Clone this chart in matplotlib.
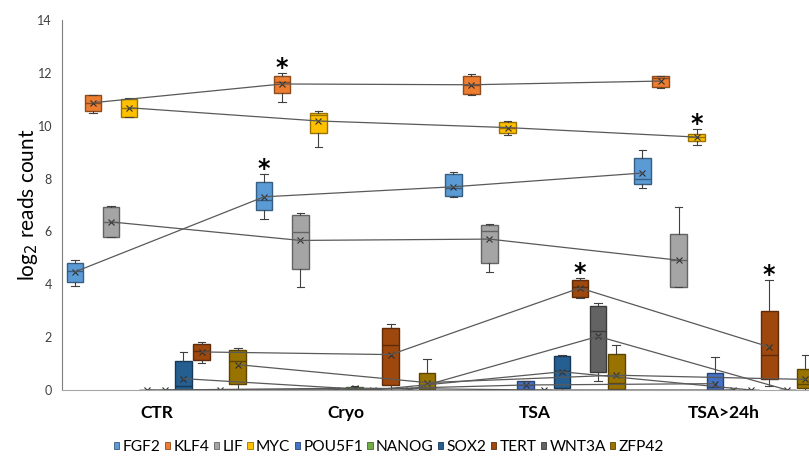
import matplotlib
matplotlib.use("Agg")
import matplotlib.pyplot as plt
import matplotlib.colors as mcolors
from matplotlib import font_manager
from matplotlib.patches import Patch

plt.rcParams["font.family"] = ["Lato", "DejaVu Sans"]

# Categories and genes
categories = ["CTR", "Cryo", "TSA", "TSA>24h"]
genes = ["FGF2", "KLF4", "LIF", "MYC", "POU5F1", "NANOG", "SOX2", "TERT", "WNT3A", "ZFP42"]
colors = ["#5B9BD5", "#ED7D31", "#A5A5A5", "#FFC000", "#4472C4",
          "#70AD47", "#255E91", "#9E480E", "#636363", "#997300"]

# Box stats per gene, one row per category: low whisker, Q1, median, Q3, high whisker, mean
FGF2 = [[3.93, 4.09, 4.51, 4.82, 4.91, 4.47],
        [6.46, 6.80, 7.19, 7.88, 8.18, 7.31],
        [7.30, 7.33, 7.66, 8.16, 8.25, 7.69],
        [7.63, 7.78, 7.97, 8.77, 9.09, 8.21]]
KLF4 = [[10.50, 10.56, 10.87, 11.16, 11.16, 10.87],
        [10.89, 11.22, 11.64, 11.88, 11.98, 11.58],
        [11.16, 11.21, 11.55, 11.89, 11.97, 11.55],
        [11.42, 11.45, 11.80, 11.87, 11.90, 11.69]]
LIF = [[5.78, 5.80, 6.36, 6.92, 6.95, 6.36],
       [3.91, 4.59, 5.97, 6.61, 6.68, 5.66],
       [4.45, 4.82, 6.03, 6.26, 6.29, 5.71],
       [3.90, 3.90, 4.91, 5.89, 6.91, 4.91]]
MYC = [[10.34, 10.34, 10.68, 11.02, 11.05, 10.68],
       [9.18, 9.71, 10.40, 10.48, 10.56, 10.18],
       [9.65, 9.71, 9.93, 10.13, 10.17, 9.93],
       [9.27, 9.42, 9.57, 9.70, 9.86, 9.57]]
POU5F1 = [[0, 0, 0, 0, 0, 0],
          [0, 0, 0, 0, 0, 0],
          [0.0, 0.03, 0.20, 0.33, 0.33, 0.19],
          [0.0, 0.0, 0.10, 0.63, 1.24, 0.24]]
NANOG = [[0, 0, 0, 0, 0, 0],
         [0.0, 0.0, 0.05, 0.10, 0.14, 0.07],
         [0, 0, 0, 0, 0, 0],
         [0, 0, 0, 0, 0, 0]]
SOX2 = [[0.0, 0.0, 0.15, 1.10, 1.43, 0.43],
        [0, 0, 0, 0, 0, 0],
        [0.0, 0.09, 0.73, 1.27, 1.31, 0.69],
        [0, 0, 0, 0, 0, 0]]
TERT = [[1.03, 1.12, 1.46, 1.73, 1.83, 1.44],
        [0.0, 0.18, 1.69, 2.33, 2.51, 1.34],
        [3.47, 3.53, 3.91, 4.15, 4.24, 3.86],
        [0.14, 0.43, 1.31, 2.98, 4.15, 1.63]]
WNT3A = [[0, 0, 0, 0, 0, 0],
         [0, 0, 0, 0, 0, 0],
         [0.34, 0.67, 2.24, 3.17, 3.28, 2.03],
         [0, 0, 0, 0, 0, 0]]
ZFP42 = [[0.0, 0.24, 1.09, 1.50, 1.60, 0.96],
         [0.0, 0.02, 0.05, 0.63, 1.16, 0.28],
         [0.0, 0.02, 0.25, 1.35, 1.69, 0.56],
         [0.0, 0.06, 0.24, 0.78, 1.31, 0.40]]
stats_by_gene = [FGF2, KLF4, LIF, MYC, POU5F1, NANOG, SOX2, TERT, WNT3A, ZFP42]

# Significance marks: (gene index, category index)
star_gene = [1, 0, 7, 3, 7]
star_cat = [1, 1, 2, 3, 3]

fig = plt.figure(figsize=(8.09, 4.57), dpi=100)
ax = fig.add_axes([0.0763, 0.1466, 0.9355, 0.8096])

slot = 0.0957
box_w = 0.088

for g, (name, col, st) in enumerate(zip(genes, colors, stats_by_gene)):
    pos = [c + (g - 4.5) * slot for c in range(len(categories))]
    edge = tuple(v * 0.6 for v in mcolors.to_rgb(col))
    bxs = []
    for row in st:
        bxs.append({"whislo": row[0], "q1": row[1], "med": row[2],
                    "q3": row[3], "whishi": row[4], "mean": row[5], "fliers": []})
    ax.bxp(bxs, positions=pos, widths=box_w, patch_artist=True, showmeans=True,
           capwidths=box_w * 0.45, manage_ticks=False,
           boxprops=dict(facecolor=col, edgecolor=edge, linewidth=1.0),
           medianprops=dict(color=edge, linewidth=1.0),
           whiskerprops=dict(color="#404040", linewidth=0.8),
           capprops=dict(color="#404040", linewidth=0.8),
           meanprops=dict(marker="x", markeredgecolor="#303030", markersize=5,
                          markeredgewidth=0.8))
    means = [row[5] for row in st]
    ax.plot(pos, means, color="#595959", linewidth=0.9, zorder=4)

for g, c in zip(star_gene, star_cat):
    x = c + (g - 4.5) * slot
    y = stats_by_gene[g][c][4]
    ax.text(x, y + 0.2, "*", ha="center", va="center", fontsize=17,
            fontweight="bold", color="black", family="DejaVu Sans")

ax.set_xlim(-0.5, 3.5)
ax.set_ylim(0, 14)
ax.set_yticks(range(0, 15, 2))
ax.tick_params(axis="y", length=0, pad=7, labelsize=9, labelcolor="#404040")
ax.set_xticks(range(len(categories)))
ax.set_xticklabels(categories, fontweight="bold", fontsize=12.5)
ax.tick_params(axis="x", length=0, pad=11)
for s in ["top", "right"]:
    ax.spines[s].set_visible(False)
ax.spines["left"].set_color("#7f7f7f")
ax.spines["bottom"].set_color("#a6a6a6")
ax.set_ylabel(r"log$_2$ reads count", fontsize=15)
ax.yaxis.set_label_coords(-0.029, 0.5)

# narrow font for the legend if it is there (closer to the original's Calibri)
names = {f.name for f in font_manager.fontManager.ttflist}
if "Liberation Sans Narrow" in names:
    leg_font = {"family": "Liberation Sans Narrow", "size": 14.5}
else:
    leg_font = {"family": "Lato", "size": 11.2}

handles = [Patch(facecolor=c, edgecolor=tuple(v * 0.6 for v in mcolors.to_rgb(c)),
                 linewidth=0.6, label=n) for n, c in zip(genes, colors)]
fig.legend(handles=handles, loc="center", bbox_to_anchor=(0.481, 0.022), ncol=10,
           frameon=False, prop=leg_font, handlelength=0.33, handleheight=0.33,
           handletextpad=0.22, columnspacing=0.28, borderaxespad=0)

fig.savefig("out.png", dpi=100)
